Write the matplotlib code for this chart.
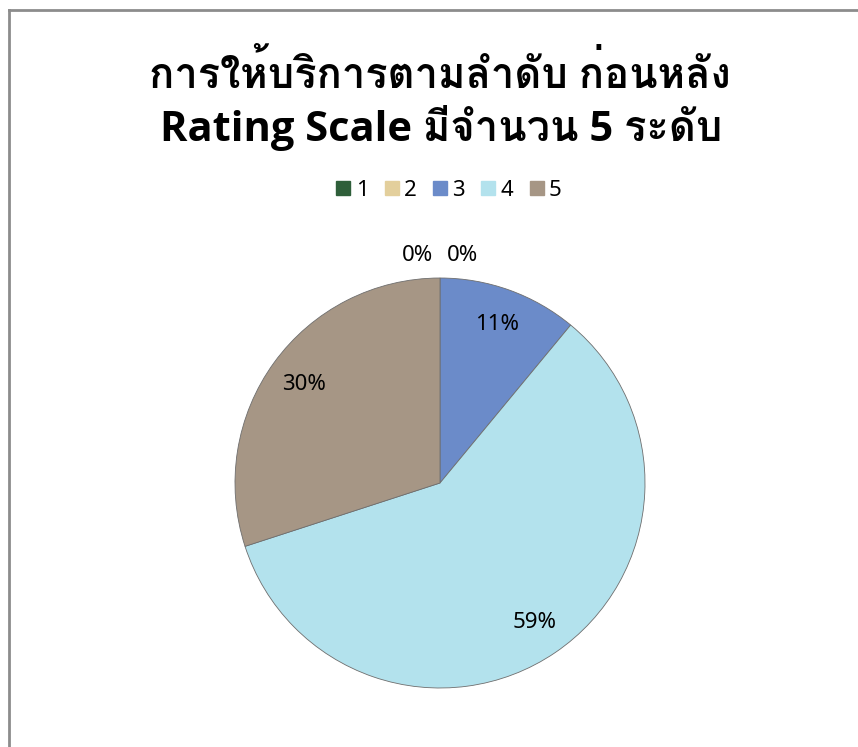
import matplotlib
matplotlib.use("Agg")
import matplotlib.pyplot as plt
from matplotlib import font_manager
from matplotlib.ft2font import FT2Font
from matplotlib.lines import Line2D
import numpy as np

# ---- data ----
categories = ["1", "2", "3", "4", "5"]
percentages = [0, 0, 11, 59, 30]
colors = ["#2f5f3a", "#e3cf9c", "#6b8bc9", "#b3e2ed", "#a69685"]
title_line1 = "การให้บริการตามลำดับ ก่อนหลัง"
title_line2 = "Rating Scale มีจำนวน 5 ระดับ"

# ---- find a font with Thai glyphs ----
thai_family = None
for fe in font_manager.fontManager.ttflist:
    try:
        cm = FT2Font(fe.fname).get_charmap()
        if 0x0E01 in cm and 0x0E33 in cm:
            thai_family = fe.name
            break
    except Exception:
        pass
fams = ["Open Sans"] + ([thai_family] if thai_family else []) + ["DejaVu Sans"]
plt.rcParams["font.family"] = fams

W, H = 858, 747
fig = plt.figure(figsize=(W / 100, H / 100), dpi=100)
fig.patch.set_facecolor("white")

# border (top and left visible)
fig.add_artist(Line2D([9 / W, 9 / W], [0, 1 - 10 / H], color="#8c8c8c", lw=2,
                      transform=fig.transFigure))
fig.add_artist(Line2D([9 / W, 1], [1 - 10 / H, 1 - 10 / H], color="#8c8c8c", lw=2,
                      transform=fig.transFigure))

# title
fig.text(440 / W, 1 - 75 / H, title_line1, ha="center", va="center",
         fontsize=30, fontweight="bold", family=fams)
fig.text(441 / W, 1 - 128 / H, title_line2, ha="center", va="center",
         fontsize=30, fontweight="bold", family=fams)

# pie axes
cx, cy, R = 440, 483, 205
ax = fig.add_axes([(cx - R) / W, 1 - (cy + R) / H, 2 * R / W, 2 * R / H])
lbl_fam = ["Noto Sans", "DejaVu Sans"]
wedges, texts, autotexts = ax.pie(
    percentages, colors=colors, startangle=90, counterclock=False,
    autopct="%.0f%%", pctdistance=0.82,
    wedgeprops=dict(edgecolor="#6e6e6e", linewidth=0.6),
    textprops=dict(fontsize=16, color="black", family=lbl_fam),
)
ax.set_xlim(-1, 1)
ax.set_ylim(-1, 1)
ax.set_aspect("equal")
ax.axis("off")

# zero-valued slices: place labels just outside the top
zero_idx = [i for i, v in enumerate(percentages) if v == 0]
offsets = [-0.11, 0.11]
for k, i in enumerate(zero_idx):
    autotexts[i].set_position((offsets[k % 2], 1.11))

# legend
handles = [Line2D([0], [0], marker="s", linestyle="none", markersize=10,
                  markerfacecolor=c, markeredgecolor=c) for c in colors]
fig.legend(handles, categories, loc="center", bbox_to_anchor=(448 / W, 1 - 190 / H),
           ncol=5, frameon=False, handletextpad=0.15,
           columnspacing=0.65, handlelength=0.8,
           prop=dict(family=lbl_fam, size=16))

fig.savefig("out.png", dpi=100, facecolor="white")
